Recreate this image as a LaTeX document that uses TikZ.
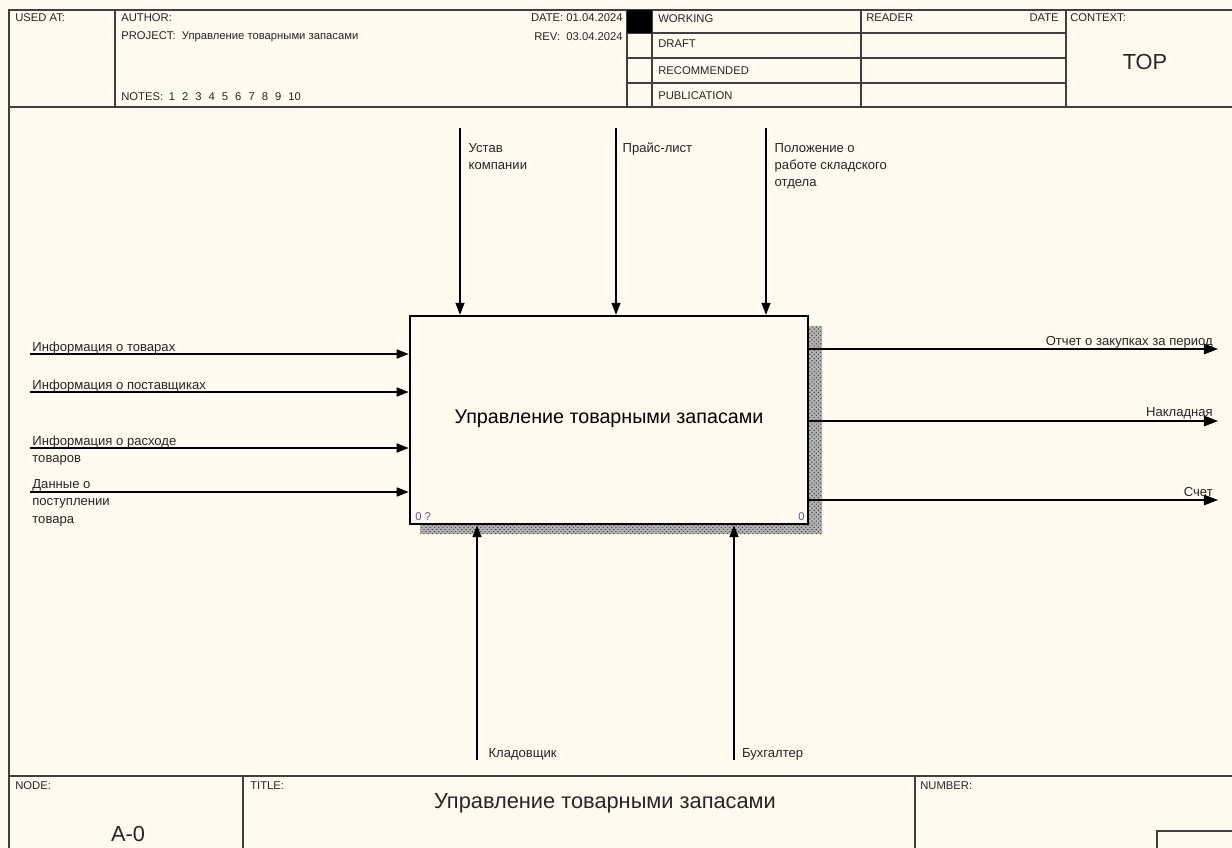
\documentclass[tikz,border=0pt]{standalone}
\usepackage{fontspec}
\setmainfont{Liberation Sans}
\usetikzlibrary{arrows.meta,patterns,positioning}
\definecolor{paper}{RGB}{255,250,240}

\begin{document}
\begin{tikzpicture}[
            x=0.025cm, y=-0.025cm,
            hdr/.style={font=\fontsize{8}{9}\selectfont, inner sep=0pt, anchor=west, text=black!85},
            lbl/.style={font=\fontsize{9.3}{12.3}\selectfont, inner sep=0pt, align=left, text=black!85},
            big/.style={font=\fontsize{15.5}{18}\selectfont, inner sep=0pt, text=black!85},
            num/.style={font=\fontsize{8}{9}\selectfont, inner sep=0pt, text=blue!35!gray},
            frame/.style={draw=black!75, line width=1.2pt},
            flow/.style={draw, line width=0.8pt, -{Triangle[length=8.5pt,width=6.5pt]}},
            outflow/.style={flow, -{Triangle[length=10pt,width=7.5pt]}},
            func/.style={draw, line width=1.8pt, fill=paper, minimum width=9.95cm, minimum height=5.2cm, inner sep=0pt, font=\fontsize{14}{16}\selectfont}
        ]
            \fill[paper] (0,0) rectangle (1232,848);
            \useasboundingbox (0,0) rectangle (1232,848);

            % form frame
            \draw[frame] (9,848) -- (9,10) -- (1232,10);
            \draw[frame] (9,107) -- (1232,107);
            \foreach \x in {115,627,652,861,1066} \draw[frame] (\x,10) -- (\x,107);
            \foreach \y in {33,58,83} \draw[frame] (627,\y) -- (1066,\y);
            \fill[black] (627,10) rectangle (652,33);
            \draw[frame] (9,776) -- (1232,776);
            \foreach \x in {243,915} \draw[frame] (\x,776) -- (\x,848);
            \draw[frame] (1157,848) -- (1157,831) -- (1232,831);

            \node[hdr] (used) at (15,18) {USED AT:};
            \node[hdr] (auth) at (121,18) {AUTHOR:};
            \node[hdr] (proj) at (121,37) {PROJECT:\ \ Управление товарными запасами};
            \node[hdr] (notes) at (121,97) {NOTES:\hspace{4pt}1\hspace{5pt}2\hspace{5pt}3\hspace{5pt}4\hspace{5pt}5\hspace{5pt}6\hspace{5pt}7\hspace{5pt}8\hspace{5pt}9\hspace{5pt}10};
            \node[hdr, anchor=east] (date) at (623,18) {DATE: 01.04.2024};
            \node[hdr, anchor=east] (rev) at (623,37) {REV:\ \ 03.04.2024};
            \node[hdr] (wrk) at (658,19) {WORKING};
            \node[hdr] (drf) at (658,44) {DRAFT};
            \node[hdr] (rec) at (658,71) {RECOMMENDED};
            \node[hdr] (pub) at (658,96) {PUBLICATION};
            \node[hdr] (rdr) at (866,18) {READER};
            \node[hdr, anchor=east] (rdate) at (1059,18) {DATE};
            \node[hdr] (ctx) at (1070,18) {CONTEXT:};
            \node[big] (top) at (1145,62) {TOP};

            \node[hdr] (nd) at (15,786) {NODE:};
            \node[hdr] (ttl) at (250,786) {TITLE:};
            \node[hdr] (nmb) at (920,786) {NUMBER:};
            \node[big] (title) at (605,803) {Управление товарными запасами};
            \node[big] (aname) at (128,834) {A-0};

            % activity box
            \fill[black!30] (808,326) rectangle (822,534) (420,524) rectangle (822,534);
            \fill[pattern=crosshatch dots, pattern color=black!75] (808,326) rectangle (822,534) (420,524) rectangle (822,534);
            \node[func] (a0) at (609,420) {\raisebox{5pt}{Управление товарными запасами}};
            \node[num, anchor=south west] (nbr) at (415,521) {0 ?};
            \node[num, anchor=south east] (cst) at (805,521) {0};

            \coordinate (c1) at (460,128);
            \coordinate (c2) at (616,128);
            \coordinate (c3) at (766,128);
            \coordinate (i1) at (30,354);
            \coordinate (i2) at (30,392);
            \coordinate (i3) at (30,448);
            \coordinate (i4) at (30,492);
            \coordinate (o1) at (1218,349);
            \coordinate (o2) at (1218,421);
            \coordinate (o3) at (1218,500);
            \coordinate (m1) at (477,760);
            \coordinate (m2) at (734,760);

            \foreach \c in {c1,c2,c3} \draw[flow] (\c) -- (\c |- a0.north);
            \foreach \i in {i1,i2,i3,i4} \draw[flow] (\i) -- (\i -| a0.west);
            \foreach \o in {o1,o2,o3} \draw[outflow] (\o -| a0.east) -- (\o);
            \foreach \m in {m1,m2} \draw[flow] (\m) -- (\m |- a0.south);

            \node[lbl, anchor=north west, xshift=6pt, yshift=-10.5pt] (lc1) at (c1) {Устав\\компании};
            \node[lbl, anchor=north west, xshift=4.5pt, yshift=-10.5pt] (lc2) at (c2) {Прайс-лист};
            \node[lbl, anchor=north west, xshift=6pt, yshift=-10.5pt] (lc3) at (c3) {Положение о\\работе складского\\отдела};

            \node[lbl, anchor=north west, xshift=1.5pt, yshift=9pt] (li1) at (i1) {Информация о товарах};
            \node[lbl, anchor=north west, xshift=1.5pt, yshift=9pt] (li2) at (i2) {Информация о поставщиках};
            \node[lbl, anchor=north west, xshift=1.5pt, yshift=9pt] (li3) at (i3) {Информация о расходе\\товаров};
            \node[lbl, anchor=north west, xshift=1.5pt, yshift=9pt] (li4) at (i4) {Данные о\\поступлении\\товара};

            \node[lbl, anchor=north east, xshift=-3.5pt, yshift=9.5pt] (lo1) at (o1) {Отчет о закупках за период};
            \node[lbl, anchor=north east, xshift=-3.5pt, yshift=9.5pt] (lo2) at (o2) {Накладная};
            \node[lbl, anchor=north east, xshift=-3.5pt, yshift=9.5pt] (lo3) at (o3) {Счет};

            \node[lbl, anchor=west, xshift=8pt, yshift=4pt] (lm1) at (m1) {Кладовщик};
            \node[lbl, anchor=west, xshift=5.5pt, yshift=4pt] (lm2) at (m2) {Бухгалтер};
        \end{tikzpicture}
\end{document}
